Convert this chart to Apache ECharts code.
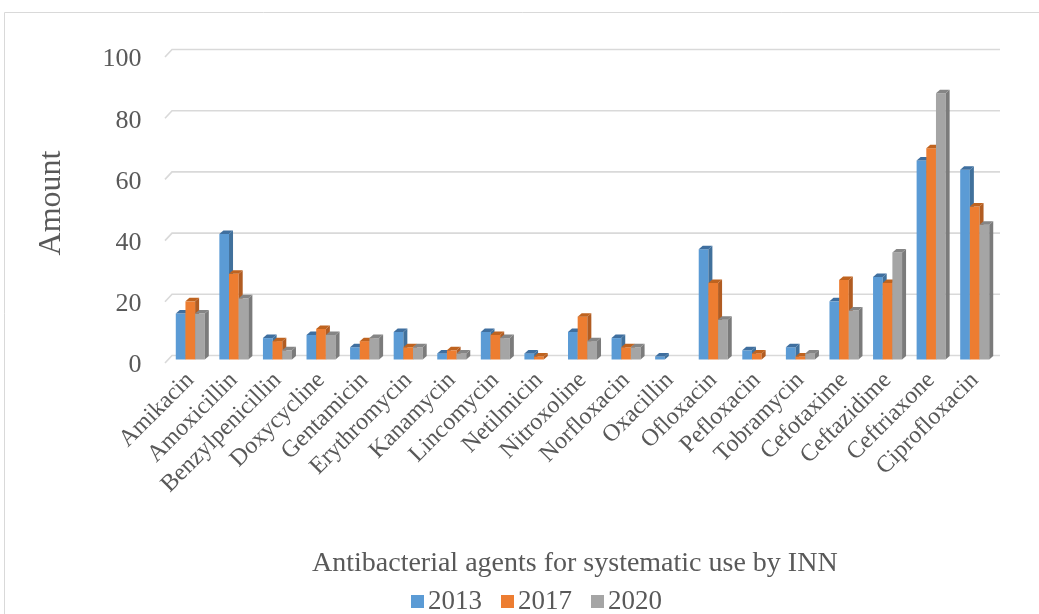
<!DOCTYPE html>
<html>
<head>
<meta charset="utf-8">
<script src="https://cdn.jsdelivr.net/npm/echarts@6/dist/echarts.min.js"></script>
<style>
  html, body { margin: 0; padding: 0; background: #ffffff; }
  #chart { width: 1039px; height: 614px; }
</style>
</head>
<body>
<div id="chart"></div>
<script>
// Antibacterial agents (INN) and amounts per year
const categories = [
  'Amikacin', 'Amoxicillin', 'Benzylpenicillin', 'Doxycycline', 'Gentamicin',
  'Erythromycin', 'Kanamycin', 'Lincomycin', 'Netilmicin', 'Nitroxoline',
  'Norfloxacin', 'Oxacillin', 'Ofloxacin', 'Pefloxacin', 'Tobramycin',
  'Cefotaxime', 'Ceftazidime', 'Ceftriaxone', 'Ciprofloxacin'
];
const years = ['2013', '2017', '2020'];
const values2013 = [15, 41, 7, 8, 4, 9, 2, 9, 2, 9, 7, 1, 36, 3, 4, 19, 27, 65, 62];
const values2017 = [19, 28, 6, 10, 6, 4, 3, 8, 1, 14, 4, 0, 25, 2, 1, 26, 25, 69, 50];
const values2020 = [15, 20, 3, 8, 7, 4, 2, 7, 0, 6, 4, 0, 13, 0, 2, 16, 35, 87, 44];
const yTicks = [0, 20, 40, 60, 80, 100];

const FONT = '"Liberation Serif", "Times New Roman", serif';
const TEXT = '#595959';
const GRID_COLOR = '#d9d9d9';

// front / right side / top face colours of each series
const palette = [
  { front: '#5b9bd5', side: '#41719c', top: '#3f6f9f' },
  { front: '#ed7d31', side: '#b15c22', top: '#bf631f' },
  { front: '#a5a5a5', side: '#7b7b7b', top: '#858585' }
];
const DEPTH_X = 4;    // oblique depth of each column
const DEPTH_Y = 3.5;

function columnRenderer(k) {
  return function (params, api) {
    const idx = api.value(0);
    const v = api.value(1);
    if (!(v > 0)) return null;
    const base = api.coord([idx, 0]);
    const top = api.coord([idx, v]);
    const band = api.size([1, 0])[0];
    const bw = band * 0.222;
    const x0 = base[0] - 1.5 * bw + k * bw;
    const x1 = x0 + bw;
    const c = palette[k];
    return {
      type: 'group',
      children: [
        { type: 'rect', shape: { x: x0, y: top[1], width: bw, height: base[1] - top[1] },
          style: { fill: c.front } },
        { type: 'polygon', shape: { points: [
            [x1, top[1]], [x1 + DEPTH_X, top[1] - DEPTH_Y],
            [x1 + DEPTH_X, base[1] - DEPTH_Y], [x1, base[1]] ] },
          style: { fill: c.side } },
        { type: 'polygon', shape: { points: [
            [x0, top[1]], [x0 + DEPTH_X, top[1] - DEPTH_Y],
            [x1 + DEPTH_X, top[1] - DEPTH_Y], [x1, top[1]] ] },
          style: { fill: c.top } }
      ]
    };
  };
}

// back-wall gridlines with the short slanted floor edge on the left
function gridlineRenderer(params, api) {
  const p = api.coord([0, api.value(1)]);
  const cs = params.coordSys;
  const y = p[1];
  return {
    type: 'polyline',
    shape: { points: [
      [cs.x - 3.5, y + 3.5], [cs.x + 3.5, y - 4], [cs.x + cs.width + 3.5, y - 4]
    ] },
    style: { stroke: GRID_COLOR, lineWidth: 1.6, fill: null }
  };
}

const seriesValues = [values2013, values2017, values2020];

const series = [{
  type: 'custom',
  name: 'grid',
  silent: true,
  z: 1,
  renderItem: gridlineRenderer,
  data: yTicks.map(t => [0, t]),
  encode: { x: 0, y: 1 }
}].concat(years.map((y, k) => ({
  type: 'custom',
  name: y,
  z: 2,
  itemStyle: { color: palette[k].front },
  renderItem: columnRenderer(k),
  data: seriesValues[k].map((v, i) => [i, v]),
  encode: { x: 0, y: 1 }
})));

const chart = echarts.init(document.getElementById('chart'), null, { renderer: 'canvas' });
chart.setOption({
  animation: false,
  backgroundColor: '#ffffff',
  textStyle: { fontFamily: FONT },
  grid: { left: 168.5, right: 42.5, top: 53.5, bottom: 254.5, containLabel: false },
  xAxis: {
    type: 'category',
    data: categories,
    axisLine: { show: false },
    axisTick: { show: false },
    splitLine: { show: false },
    axisLabel: {
      interval: 0,
      rotate: 45,
      margin: 17,
      color: TEXT,
      fontSize: 24,
      fontFamily: FONT
    }
  },
  yAxis: {
    type: 'value',
    min: 0,
    max: 100,
    interval: 20,
    axisLine: { show: false },
    axisTick: { show: false },
    splitLine: { show: false },
    axisLabel: {
      margin: 27,
      color: TEXT,
      fontSize: 26,
      fontFamily: FONT,
      formatter: '{t|{value}}',
      rich: {
        t: { fontSize: 26, fontFamily: FONT, color: TEXT, padding: [12, 0, 0, 0] }
      }
    }
  },
  legend: {
    data: years.map((y, k) => ({ name: y, icon: 'rect', itemStyle: { color: palette[k].front } })),
    top: 588,
    left: 411,
    padding: 0,
    itemWidth: 13,
    itemHeight: 13,
    itemGap: 19,
    textStyle: { color: TEXT, fontSize: 27, fontFamily: FONT, padding: [0, 0, 0, -1] }
  },
  title: {
    text: 'Antibacterial agents for systematic use by INN',
    left: 312,
    top: 550,
    padding: 0,
    textStyle: { color: TEXT, fontSize: 28, fontWeight: 'normal', fontFamily: FONT }
  },
  graphic: [
    {
      type: 'rect',
      shape: { x: 4.5, y: 12.5, width: 1200, height: 800 },
      style: { fill: null, stroke: GRID_COLOR, lineWidth: 1 },
      silent: true,
      z: 0
    },
    {
      type: 'text',
      x: 52,
      y: 203,
      rotation: Math.PI / 2,
      style: {
        text: 'Amount',
        fill: TEXT,
        fontSize: 32,
        fontFamily: FONT,
        align: 'center',
        verticalAlign: 'middle'
      },
      silent: true
    }
  ],
  series: series
});
</script>
</body>
</html>
